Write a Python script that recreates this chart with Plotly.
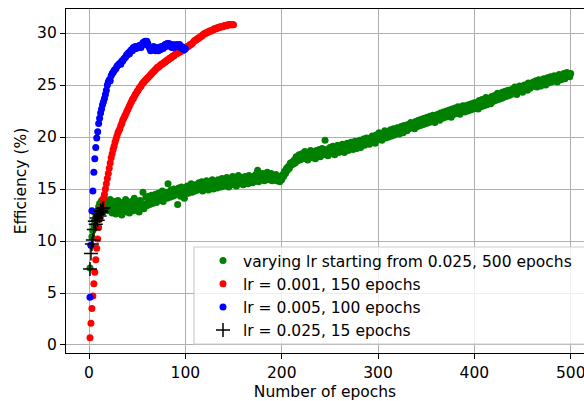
import plotly.graph_objects as go

# ---------------- data ----------------
green_epochs = list(range(1, 501))
green_eff = [
    7.4, 9.6, 10.4, 11.0, 11.5, 11.9, 12.2, 12.6, 12.9, 13.3,
    13.6, 13.0, 13.9, 12.8, 13.4, 14.1, 13.2, 13.7, 13.5, 12.9,
    13.3, 14.0, 13.6, 12.7, 13.1, 13.8, 13.4, 12.6, 13.2, 13.9,
    12.9, 13.5, 13.2, 12.5, 13.7, 13.0, 13.4, 14.0, 12.8, 13.3,
    13.6, 12.7, 13.1, 13.8, 13.5, 12.9, 14.1, 13.2, 13.0, 13.7,
    13.4, 12.8, 13.9, 13.3, 13.6, 14.7, 13.1, 13.5, 14.2, 13.4,
    13.7, 14.3, 13.5, 13.9, 14.4, 13.6, 14.1, 13.8, 14.5, 13.7,
    14.0, 14.6, 13.9, 14.3, 14.1, 14.8, 13.8, 14.4, 14.2, 14.7,
    14.1, 15.5, 14.5, 14.2, 14.9, 14.6, 14.3, 15.0, 14.4, 14.8,
    14.6, 13.5, 15.1, 14.7, 14.3, 15.2, 14.9, 14.5, 14.1, 15.0,
    14.8, 15.3, 14.6, 15.1, 14.9, 15.5, 14.7, 15.2, 15.0, 14.8,
    15.4, 15.1, 14.9, 15.6, 15.2, 15.0, 15.7, 14.8, 15.3, 15.5,
    15.1, 15.8, 15.3, 14.9, 15.6, 15.2, 15.4, 15.9, 15.0, 15.5,
    15.3, 15.7, 15.1, 15.9, 15.4, 15.6, 15.2, 16.0, 15.5, 15.3,
    15.8, 15.4, 16.1, 15.6, 15.2, 15.9, 15.5, 15.7, 16.2, 15.4,
    15.6, 16.0, 15.3, 15.8, 16.3, 15.5, 15.9, 15.7, 16.1, 15.4,
    15.8, 16.2, 15.6, 16.0, 15.5, 16.3, 15.9, 15.7, 16.1, 15.6,
    16.2, 15.8, 16.4, 16.0, 16.8, 15.7, 16.1, 16.3, 15.9, 16.5,
    16.0, 15.8, 16.4, 16.1, 16.6, 15.9, 16.2, 16.0, 16.5, 15.8,
    16.3, 16.1, 15.9, 16.4, 15.8, 16.2, 16.0, 15.7, 16.1, 15.9,
    16.4, 16.2, 16.7, 16.5, 17.0, 16.8, 17.2, 17.0, 17.5, 17.3,
    17.6, 17.4, 17.8, 17.5, 18.1, 17.7, 17.9, 18.3, 17.8, 18.0,
    18.4, 17.9, 18.2, 18.6, 18.0, 18.3, 17.8, 18.5, 18.1, 18.7,
    18.2, 18.0, 18.6, 18.3, 17.9, 18.7, 18.4, 18.2, 18.8, 18.1,
    18.5, 18.9, 18.3, 18.6, 19.7, 18.4, 18.8, 18.2, 18.7, 19.0,
    18.4, 18.6, 19.1, 18.5, 18.3, 18.9, 18.7, 19.2, 18.5, 18.8,
    19.0, 18.6, 19.3, 18.8, 18.5, 19.1, 18.9, 19.4, 18.7, 19.2,
    18.9, 19.5, 19.0, 18.8, 19.3, 19.6, 19.1, 18.9, 19.4, 19.2,
    19.7, 19.0, 19.5, 19.3, 19.8, 19.2, 19.6, 19.9, 19.4, 19.7,
    19.3, 19.9, 19.6, 20.1, 19.5, 19.8, 19.4, 20.2, 19.7, 19.9,
    20.4, 19.8, 20.1, 19.7, 20.3, 20.0, 20.6, 19.9, 20.2, 20.5,
    20.0, 20.4, 20.7, 20.1, 20.3, 20.8, 20.2, 20.6, 20.4, 20.9,
    20.5, 20.3, 20.8, 21.0, 20.6, 20.4, 21.1, 20.7, 21.0, 20.6,
    21.2, 20.8, 21.0, 21.4, 20.9, 21.3, 21.1, 20.8, 21.5, 21.2,
    21.0, 21.6, 21.3, 21.1, 21.7, 21.4, 21.2, 21.8, 21.5, 21.3,
    21.9, 21.6, 21.4, 22.0, 21.7, 21.5, 22.1, 21.8, 21.4, 22.0,
    21.7, 22.2, 21.9, 21.6, 22.3, 22.0, 21.8, 22.4, 22.1, 21.9,
    22.5, 22.2, 22.0, 22.6, 22.3, 21.9, 22.7, 22.4, 22.2, 22.8,
    22.3, 22.6, 22.9, 22.4, 22.2, 22.8, 22.5, 23.0, 22.6, 22.4,
    23.0, 22.7, 22.5, 23.1, 22.8, 22.6, 23.2, 22.9, 22.7, 23.3,
    22.8, 23.3, 23.0, 22.7, 23.5, 23.1, 22.9, 23.6, 23.2, 23.0,
    23.4, 23.8, 23.1, 23.3, 23.7, 23.5, 23.2, 23.9, 23.4, 23.6,
    24.0, 23.5, 23.7, 24.2, 23.6, 23.9, 24.1, 23.7, 24.3, 23.8,
    24.0, 24.4, 23.9, 24.2, 24.5, 24.0, 24.3, 24.1, 24.6, 24.2,
    24.4, 24.8, 24.3, 24.1, 24.7, 24.5, 24.9, 24.4, 24.6, 24.3,
    24.8, 25.0, 24.6, 24.9, 24.5, 25.2, 24.8, 24.7, 25.1, 24.9,
    25.3, 24.9, 25.0, 25.4, 24.8, 25.2, 25.5, 25.1, 24.9, 25.4,
    25.2, 25.6, 25.3, 25.0, 25.5, 25.7, 25.2, 25.4, 25.8, 25.3,
    25.6, 25.4, 25.9, 25.5, 25.7, 25.3, 25.8, 26.0, 25.6, 25.5,
    25.9, 25.7, 26.1, 25.6, 25.8, 26.2, 25.9, 26.0, 25.8, 26.1,
]

red_epochs = list(range(1, 151))
red_eff = [
    0.7, 2.1, 3.5, 4.7, 5.9, 7.0, 8.2, 9.3, 10.2, 11.3,
    12.1, 12.7, 13.2, 13.6, 14.1, 14.5, 15.0, 15.5, 16.0, 16.5,
    17.0, 17.5, 18.0, 18.4, 18.8, 19.1, 19.5, 19.8, 20.1, 20.4,
    20.6, 20.8, 21.1, 21.3, 21.6, 21.8, 22.0, 22.2, 22.4, 22.6,
    22.8, 23.0, 23.2, 23.4, 23.6, 23.7, 23.9, 24.1, 24.2, 24.4,
    24.5, 24.7, 24.8, 24.9, 25.1, 25.2, 25.3, 25.4, 25.5, 25.6,
    25.7, 25.8, 25.9, 26.0, 26.1, 26.2, 26.3, 26.4, 26.5, 26.6,
    26.7, 26.7, 26.8, 26.9, 27.0, 27.0, 27.1, 27.2, 27.2, 27.3,
    27.4, 27.4, 27.5, 27.6, 27.6, 27.7, 27.8, 27.8, 27.9, 28.0,
    28.0, 28.1, 28.1, 28.2, 28.2, 28.3, 28.3, 28.4, 28.5, 28.5,
    28.6, 28.7, 28.7, 28.8, 28.9, 28.9, 29.0, 29.1, 29.2, 29.3,
    29.3, 29.4, 29.5, 29.5, 29.6, 29.7, 29.7, 29.8, 29.9, 29.9,
    30.0, 30.0, 30.1, 30.1, 30.2, 30.2, 30.2, 30.3, 30.3, 30.4,
    30.4, 30.4, 30.5, 30.5, 30.5, 30.6, 30.6, 30.6, 30.6, 30.7,
    30.7, 30.7, 30.7, 30.8, 30.8, 30.8, 30.8, 30.8, 30.8, 30.8,
]

blue_epochs = list(range(1, 101))
blue_eff = [
    4.6, 9.6, 12.9, 14.8, 16.6, 17.9, 19.0, 19.9, 20.5, 21.3,
    21.8, 22.3, 22.7, 23.1, 23.4, 23.7, 24.1, 24.5, 25.0, 25.3,
    25.5, 25.4, 25.9, 26.1, 26.2, 26.4, 26.5, 26.6, 26.8, 26.9,
    27.0, 27.1, 27.0, 27.3, 27.3, 27.5, 27.6, 27.7, 27.9, 27.9,
    28.1, 28.0, 28.3, 28.4, 28.3, 28.6, 28.5, 28.7, 28.5, 28.7,
    28.6, 28.8, 28.7, 28.6, 28.9, 29.1, 29.0, 29.2, 28.9, 29.2,
    29.0, 28.7, 28.5, 28.3, 28.6, 28.4, 28.7, 28.4, 28.3, 28.6,
    28.5, 28.3, 28.6, 28.4, 28.7, 28.6, 28.5, 28.8, 28.9, 28.7,
    29.0, 28.9, 29.0, 28.8, 28.7, 28.6, 28.9, 28.6, 28.8, 28.7,
    28.9, 28.7, 28.8, 28.9, 28.6, 28.7, 28.5, 28.6, 28.4, 28.5,
]

black_epochs = list(range(1, 16))
black_eff = [7.3, 8.8, 9.7, 10.1, 11.1, 11.9, 11.6, 12.2, 12.0, 12.6,
             12.4, 12.9, 12.8, 13.1, 13.2]

labels = [
    "varying lr starting from 0.025, 500 epochs",
    "lr = 0.001, 150 epochs",
    "lr = 0.005, 100 epochs",
    "lr = 0.025, 15 epochs",
]
x_ticks = [0, 100, 200, 300, 400, 500]
y_ticks = [0, 5, 10, 15, 20, 25, 30]

# ---------------- figure ----------------
FONT = "DejaVu Sans"
FS = 15.5
W, H = 584, 401
ML, MR, MT, MB = 66, 0, 9, 48
MS = 7

fig = go.Figure()
fig.add_trace(go.Scatter(x=green_epochs, y=green_eff, mode="markers", name=labels[0],
                         legendgroup="a",
                         marker=dict(color="#008000", size=MS, line=dict(width=0))))
fig.add_trace(go.Scatter(x=red_epochs, y=red_eff, mode="markers", name=labels[1],
                         legendgroup="b",
                         marker=dict(color="#ff0000", size=MS, line=dict(width=0))))
fig.add_trace(go.Scatter(x=blue_epochs, y=blue_eff, mode="markers", name=labels[2],
                         legendgroup="c",
                         marker=dict(color="#0000ff", size=MS, line=dict(width=0))))
fig.add_trace(go.Scatter(x=black_epochs, y=black_eff, mode="markers", name=labels[3],
                         legendgroup="d",
                         marker=dict(symbol="cross-thin", color="black", size=10,
                                     line=dict(width=1.5, color="black"))))

pw = W - ML - MR
ph = H - MT - MB
# legend frame (matplotlib style, semi-transparent white)
x0 = (194 - ML) / pw
x1 = (600 - ML) / pw
y0 = 1 - (344 - MT) / ph
y1 = 1 - (247 - MT) / ph

fig.add_shape(type="rect", xref="paper", yref="paper", x0=x0, x1=x1, y0=y0, y1=y1,
              line=dict(color="#cccccc", width=1.2), fillcolor="rgba(255,255,255,0.8)",
              layer="above")

fig.update_layout(
    width=W, height=H,
    margin=dict(l=ML, r=MR, t=MT, b=MB, pad=0),
    paper_bgcolor="white", plot_bgcolor="white",
    font=dict(family=FONT, size=FS, color="black"),
    showlegend=True,
    legend=dict(x=(203 - ML) / pw, y=1 - (244 - MT) / ph, xanchor="left", yanchor="top",
                bgcolor="rgba(0,0,0,0)", borderwidth=0,
                font=dict(family=FONT, size=FS, color="black"),
                tracegroupgap=0, traceorder="grouped", itemsizing="trace"),
    xaxis=dict(range=[-23.9, 513.8], tickvals=x_ticks, ticktext=[str(v) for v in x_ticks],
               showgrid=True, gridcolor="#b0b0b0", gridwidth=1.2,
               showline=True, linecolor="black", linewidth=1.2, mirror=True,
               ticks="outside", ticklen=5, tickwidth=1.2, tickcolor="black",
               ticklabeloverflow="allow",
               zeroline=False, automargin=False,
               title=dict(text="Number of epochs", standoff=9,
                          font=dict(family=FONT, size=FS, color="black"))),
    yaxis=dict(range=[-0.77, 32.31], tickvals=y_ticks, ticktext=[str(v) for v in y_ticks],
               showgrid=True, gridcolor="#b0b0b0", gridwidth=1.2,
               showline=True, linecolor="black", linewidth=1.2, mirror=False,
               ticks="outside", ticklen=5, tickwidth=1.2, tickcolor="black",
               zeroline=False, automargin=False,
               title=dict(text="Efficiency (%)", standoff=6,
                          font=dict(family=FONT, size=FS, color="black"))),
)

fig.write_html("out.html")
